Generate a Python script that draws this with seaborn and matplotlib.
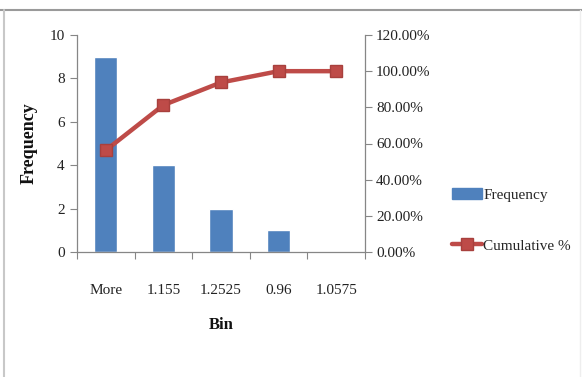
import matplotlib
matplotlib.use("Agg")
import matplotlib.pyplot as plt
import matplotlib.patches as mpatches
from matplotlib.lines import Line2D
from matplotlib.ticker import FixedLocator, PercentFormatter
import seaborn as sns
import pandas as pd

# Histogram output (Pareto-sorted bins)
bins = ["More", "1.155", "1.2525", "0.96", "1.0575"]
frequency = [9, 4, 2, 1, 0]
cumulative_pct = [56.25, 81.25, 93.75, 100.0, 100.0]

df = pd.DataFrame({"Bin": bins, "Frequency": frequency, "Cumulative": cumulative_pct})

sns.set_theme(style="white")
plt.rcParams["font.family"] = ["Liberation Serif", "DejaVu Serif"]

BLUE = "#4f81bd"
RED = "#be4b48"
AXIS = "#868686"
TXT = 11

fig = plt.figure(figsize=(5.82, 3.77), dpi=100)
ax = fig.add_axes([77 / 582, 1 - 252 / 377, 288 / 582, 217 / 377])
ax2 = ax.twinx()

sns.barplot(data=df, x="Bin", y="Frequency", color=BLUE, width=0.40,
            saturation=1, ax=ax, order=bins)
sns.pointplot(data=df, x="Bin", y="Cumulative", color=RED, markers="s",
              order=bins, ax=ax2, linewidth=3.2, markersize=8,
              markeredgecolor="#a8403d", markeredgewidth=1.0)

ax.set_xlim(-0.5, len(bins) - 0.5)
ax.set_ylim(0, 10)
ax2.set_ylim(0, 120)
ax.set_yticks([0, 2, 4, 6, 8, 10])
ax2.set_yticks([0, 20, 40, 60, 80, 100, 120])
ax2.yaxis.set_major_formatter(PercentFormatter(decimals=2))

# category separators on the x axis
ax.xaxis.set_minor_locator(FixedLocator([i - 0.5 for i in range(len(bins) + 1)]))
ax.tick_params(axis="x", which="major", length=0, pad=23, labelsize=TXT,
               colors="#222222")
ax.tick_params(axis="x", which="minor", length=5, width=0.8, color=AXIS,
               direction="out", bottom=True)
ax.tick_params(axis="y", length=5, width=0.8, color=AXIS, direction="out",
               labelsize=TXT, labelcolor="#222222", pad=4, left=True)
ax2.tick_params(axis="y", length=5, width=0.8, color=AXIS, direction="out",
                labelsize=TXT, labelcolor="#222222", pad=3, right=True)

for a in (ax, ax2):
    a.spines["top"].set_visible(False)
    for side in ("left", "bottom", "right"):
        a.spines[side].set_color(AXIS)
        a.spines[side].set_linewidth(0.9)
ax.spines["right"].set_visible(False)
ax2.spines["left"].set_visible(False)
ax2.spines["bottom"].set_visible(False)

ax.set_xlabel("Bin", fontsize=12, fontweight="bold", color="#111111")
ax.xaxis.set_label_coords(0.5, -0.30)
ax.set_ylabel("Frequency", fontsize=13, fontweight="bold", color="#111111")
ax.yaxis.set_label_coords(-0.135, 0.5)
ax2.set_ylabel("")

handles = [
    mpatches.Patch(color=BLUE),
    Line2D([], [], color=RED, linewidth=3.2, marker="s", markersize=8,
           markerfacecolor=RED, markeredgecolor="#a8403d"),
]
fig.legend(handles, ["Frequency", "Cumulative %"], loc="upper left",
           bbox_to_anchor=(452 / 582, 1 - 188 / 377), frameon=False,
           fontsize=TXT, handlelength=1.95, handletextpad=0.1,
           labelspacing=2.45, borderaxespad=0, borderpad=0)

# outer chart frame
fig.add_artist(Line2D([0, 1], [1 - 9.5 / 377] * 2, transform=fig.transFigure,
                      color="#9a9a9a", linewidth=1.5))
fig.add_artist(Line2D([3.5 / 582] * 2, [0, 1 - 9.5 / 377], transform=fig.transFigure,
                      color="#c8c8c8", linewidth=1.5))
fig.add_artist(Line2D([580 / 582] * 2, [0, 1 - 9.5 / 377], transform=fig.transFigure,
                      color="#eeeeee", linewidth=1.0))

fig.savefig("out.png", dpi=100)
